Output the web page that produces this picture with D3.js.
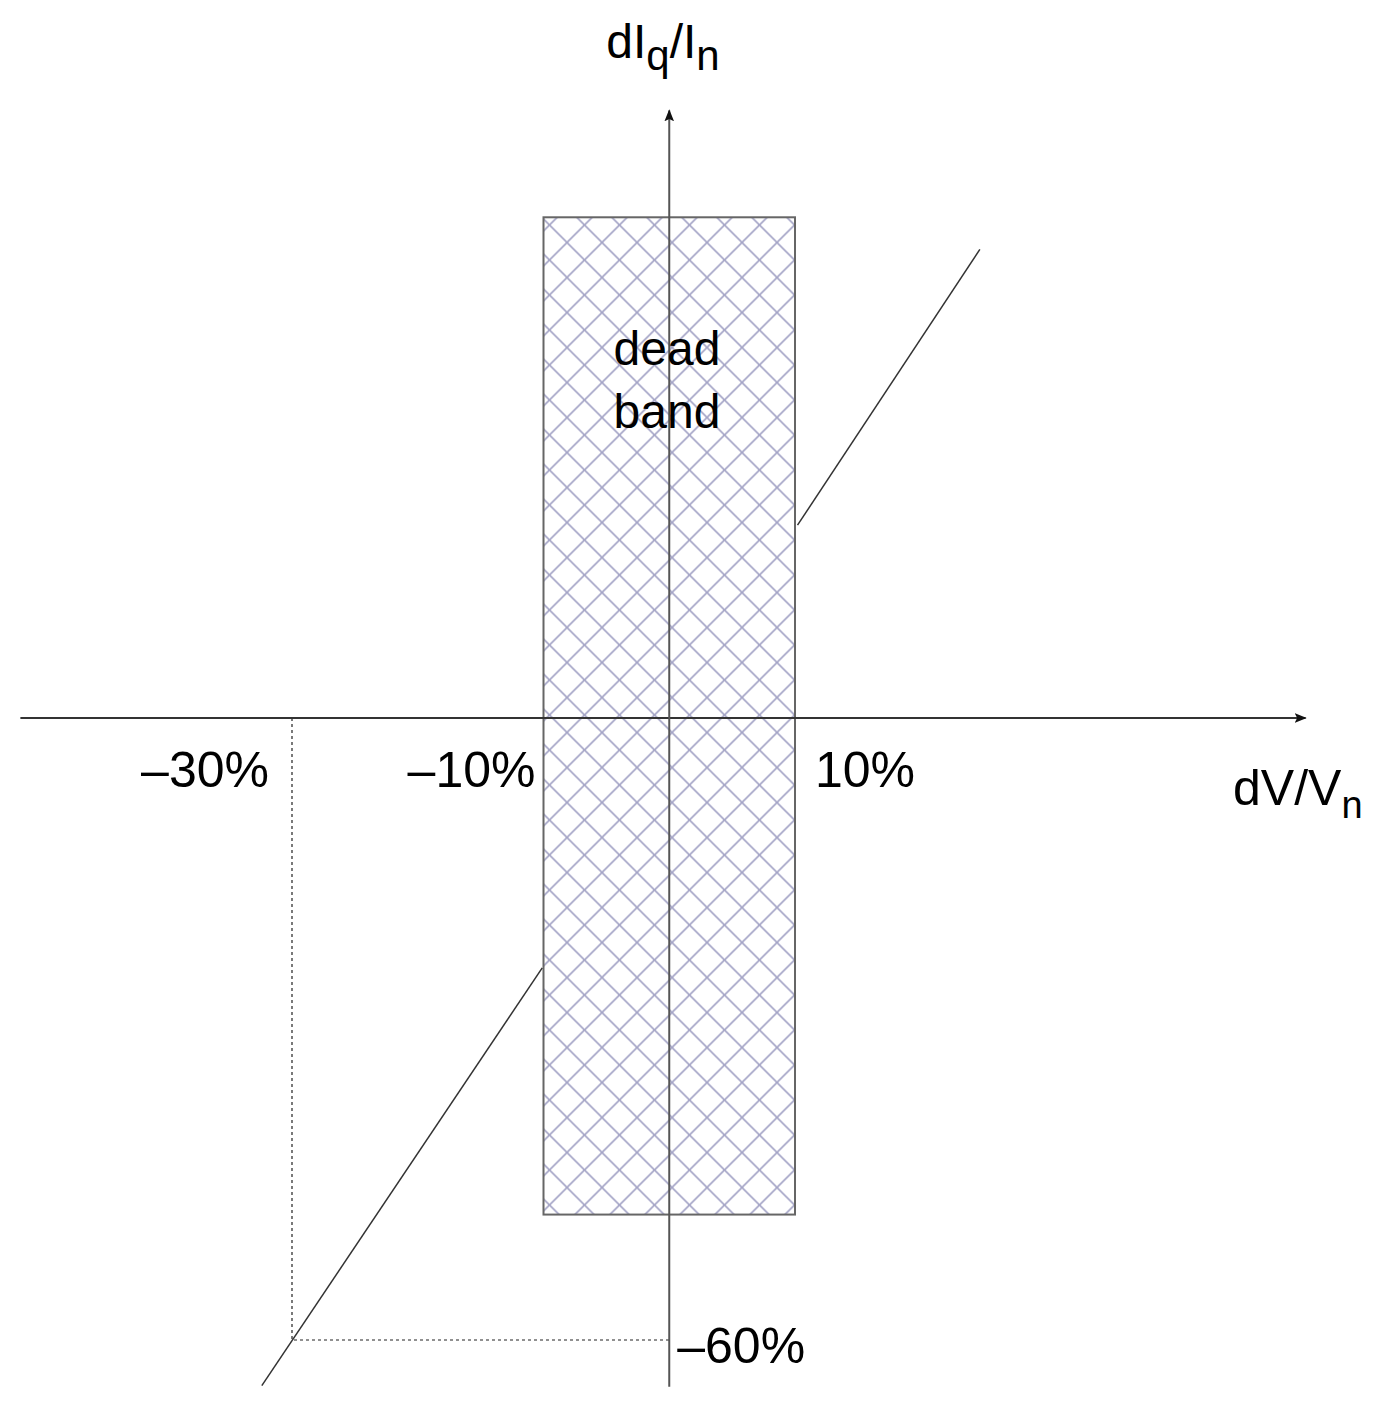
<!DOCTYPE html>
<html>
<head>
<meta charset="utf-8">
<script src="https://cdn.jsdelivr.net/npm/d3@7"></script>
<style>
  body { margin: 0; background: #fff; }
  svg text { font-family: "Liberation Sans", Arial, Helvetica, sans-serif; fill: #000; }
</style>
</head>
<body>
<div id="chart"></div>
<script>
// values in percent
const xTicks = [-30, -10, 10];
const xTickLabels = ["\u201330%", "\u201310%", "10%"];
const yTicks = [-60];
const yTickLabels = ["\u201360%"];
const deadBandX = [-10, 10];
const deadBandY = [-47.9, 48.3];
const lowerBranch = [[-32.4, -64.4], [-10.1, -24.1]];
const upperBranch = [[10.2, 18.6], [24.7, 45.2]];
const marker = [-30, -60];
const xAxisExtent = [-51.6, 50.6];
const yAxisExtent = [-64.5, 58.6];

const width = 1384, height = 1404;

const svg = d3.select("#chart").append("svg")
  .attr("width", width)
  .attr("height", height);

// scales
const x = d3.scaleLinear().domain([-30, 10]).range([292, 795]);
const y = d3.scaleLinear().domain([-60, 0]).range([1340, 718]);

const defs = svg.append("defs");
const pat = defs.append("pattern")
  .attr("id", "hatch")
  .attr("patternUnits", "userSpaceOnUse")
  .attr("x", 7).attr("y", -2.5)
  .attr("width", 35).attr("height", 35);
pat.append("path")
  .attr("d", "M0,0L35,35M35,0L0,35M-5,30L5,40M30,-5L40,5M-5,5L5,-5M30,40L40,30")
  .attr("stroke", "#a4a4c6")
  .attr("stroke-width", 1.6);

defs.append("marker")
  .attr("id", "arrow")
  .attr("viewBox", "0 0 10 10")
  .attr("refX", 9).attr("refY", 5)
  .attr("markerWidth", 12).attr("markerHeight", 12)
  .attr("markerUnits", "userSpaceOnUse")
  .attr("orient", "auto")
  .append("path")
  .attr("d", "M0,1L10,5L0,9L2,5Z")
  .attr("fill", "#111");

// dead band
svg.append("rect")
  .attr("x", x(deadBandX[0]))
  .attr("y", y(deadBandY[1]))
  .attr("width", x(deadBandX[1]) - x(deadBandX[0]))
  .attr("height", y(deadBandY[0]) - y(deadBandY[1]))
  .attr("fill", "url(#hatch)")
  .attr("stroke", "#666")
  .attr("stroke-width", 2);

// dotted guides
svg.append("path")
  .attr("d", d3.line()([[x(marker[0]), y(0)], [x(marker[0]), y(marker[1])], [x(0), y(marker[1])]]))
  .attr("fill", "none")
  .attr("stroke", "#222")
  .attr("stroke-width", 1.2)
  .attr("stroke-dasharray", "3,3");

// axes
svg.append("line")
  .attr("x1", x(xAxisExtent[0])).attr("x2", x(xAxisExtent[1]))
  .attr("y1", y(0)).attr("y2", y(0))
  .attr("stroke", "#333").attr("stroke-width", 2)
  .attr("marker-end", "url(#arrow)");
svg.append("line")
  .attr("x1", x(0)).attr("x2", x(0))
  .attr("y1", y(yAxisExtent[0])).attr("y2", y(yAxisExtent[1]))
  .attr("stroke", "#555").attr("stroke-width", 2)
  .attr("marker-end", "url(#arrow)");

// characteristic branches
const line = d3.line().x(d => x(d[0])).y(d => y(d[1]));
[lowerBranch, upperBranch].forEach(b => {
  svg.append("path")
    .attr("d", line(b))
    .attr("fill", "none")
    .attr("stroke", "#333")
    .attr("stroke-width", 1.5);
});

// tick labels
const tickDx = {"-30": -23, "-10": -8, "10": 20};
svg.selectAll(".xtick")
  .data(xTicks)
  .join("text")
  .attr("class", "xtick")
  .attr("x", d => x(d) + tickDx[d])
  .attr("y", y(0) + 69)
  .attr("text-anchor", d => d < 0 ? "end" : "start")
  .style("font-size", "50px")
  .text((d, i) => xTickLabels[i]);

svg.selectAll(".ytick")
  .data(yTicks)
  .join("text")
  .attr("class", "ytick")
  .attr("x", x(0) + 8)
  .attr("y", d => y(d) + 23)
  .attr("text-anchor", "start")
  .style("font-size", "50px")
  .text((d, i) => yTickLabels[i]);

// axis titles
const xt = svg.append("text")
  .attr("x", 1233).attr("y", 805)
  .style("font-size", "50px");
xt.append("tspan").text("dV/V");
xt.append("tspan").attr("dy", 13).style("font-size", "38px").text("n");

const yt = svg.append("text")
  .attr("x", 663).attr("y", 58)
  .attr("text-anchor", "middle")
  .style("font-size", "48px");
yt.append("tspan").text("dI");
yt.append("tspan").attr("dy", 12).style("font-size", "42px").text("q");
yt.append("tspan").attr("dy", -12).text("/I");
yt.append("tspan").attr("dy", 12).style("font-size", "42px").text("n");

// dead band label
svg.append("text")
  .attr("x", 667).attr("y", 365)
  .attr("text-anchor", "middle")
  .style("font-size", "48px")
  .selectAll("tspan")
  .data(["dead", "band"])
  .join("tspan")
  .attr("x", 667)
  .attr("dy", (d, i) => i ? 63 : 0)
  .text(d => d);
</script>
</body>
</html>
